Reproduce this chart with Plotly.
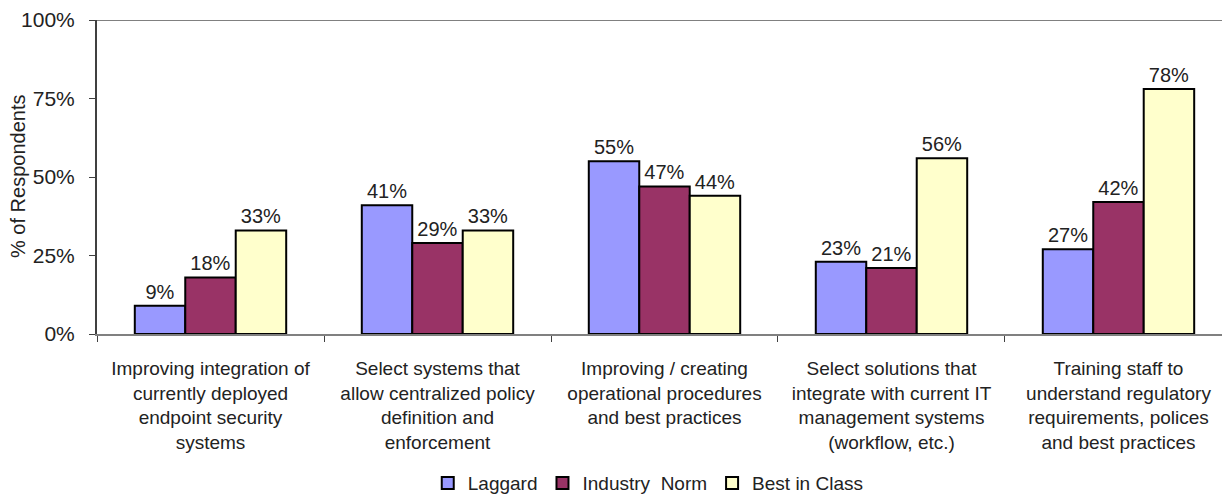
import plotly.graph_objects as go

categories = [
    "Improving integration of<br>currently deployed<br>endpoint security<br>systems",
    "Select systems that<br>allow centralized policy<br>definition and<br>enforcement",
    "Improving / creating<br>operational procedures<br>and best practices",
    "Select solutions that<br>integrate with current IT<br>management systems<br>(workflow, etc.)",
    "Training staff to<br>understand regulatory<br>requirements, polices<br>and best practices",
]
laggard = [9, 41, 55, 23, 27]
industry_norm = [18, 29, 47, 21, 42]
best_in_class = [33, 33, 44, 56, 78]
series_names = ["Laggard", "Industry  Norm", "Best in Class"]
colors = ["#9999FF", "#993366", "#FFFFCC"]
y_ticks = [0, 25, 50, 75, 100]

FONT = "Arial, Liberation Sans, sans-serif"
TXT = "#222222"
fig = go.Figure()
for name, vals, col in zip(series_names, [laggard, industry_norm, best_in_class], colors):
    fig.add_trace(go.Bar(
        x=categories, y=vals, name=name,
        marker=dict(color=col, line=dict(color="#000000", width=2)),
        text=[f"{v}%" for v in vals], textposition="outside",
        textfont=dict(size=20, color=TXT, family=FONT),
        cliponaxis=False,
    ))

fig.add_shape(type="line", xref="paper", yref="y", x0=0, x1=1, y0=100, y1=100,
              line=dict(color="#808080", width=2))

fig.add_annotation(text="% of Respondents", xref="paper", yref="paper",
                   x=0, y=0.5, xshift=-79, xanchor="center", yanchor="middle",
                   textangle=-90, showarrow=False,
                   font=dict(size=20, color=TXT, family=FONT))

fig.update_layout(
    width=1222, height=494,
    margin=dict(l=97, r=0, t=20, b=160, autoexpand=False),
    paper_bgcolor="white", plot_bgcolor="white",
    barmode="group", bargap=0.333, bargroupgap=0,
    font=dict(family=FONT, color=TXT, size=19),
    showlegend=True,
    legend=dict(orientation="h", x=0.49, xanchor="center", y=-0.475, yanchor="middle",
                font=dict(size=19), itemwidth=30, tracegroupgap=0,
                itemsizing="constant"),
    uniformtext=dict(minsize=20, mode="show"),
)
fig.update_xaxes(
    range=[-0.5, 4.456], showline=True, linecolor="#808080", linewidth=2,
    ticks="outside", tickson="boundaries", ticklen=6, tickcolor="#404040",
    tickfont=dict(size=19, color=TXT), showgrid=False, tickangle=0,
    ticklabelstandoff=16, automargin=False,
)
fig.update_yaxes(
    range=[0, 100], tickvals=y_ticks, ticktext=[f"{v}%" for v in y_ticks],
    showline=True, linecolor="#404040", linewidth=2, ticks="outside", ticklen=6,
    tickcolor="#404040", tickfont=dict(size=21, color=TXT), showgrid=False,
    zeroline=False, ticklabelstandoff=10, automargin=False,
)

fig.write_html("out.html")
